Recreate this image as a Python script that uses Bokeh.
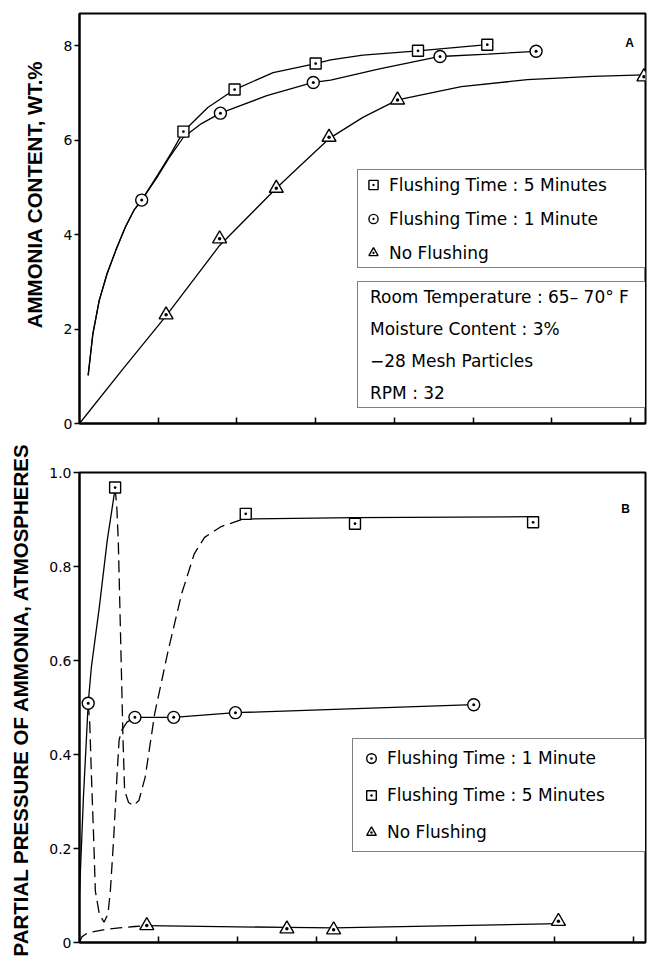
from math import pi
from bokeh.plotting import figure
from bokeh.models import Range1d, FixedTicker, Legend, LegendItem, Label
from bokeh.layouts import column, row
from bokeh.embed import file_html
from bokeh.resources import INLINE

# ---------------- Panel A data (ammonia content, wt.%) ----------------
x_ticks = [1, 2, 3, 4, 5, 6, 7]
a_y_ticks = [0, 2, 4, 6, 8]

# measured points
a_sq_x = [1.32, 1.97, 3.00, 4.30, 5.18]
a_sq_y = [6.18, 7.07, 7.62, 7.89, 8.02]
a_ci_x = [0.79, 1.79, 2.97, 4.58, 5.80]
a_ci_y = [4.73, 6.57, 7.22, 7.77, 7.88]
a_tr_x = [1.10, 1.78, 2.50, 3.17, 4.04, 7.17]
a_tr_y = [2.30, 3.91, 4.98, 6.06, 6.85, 7.34]

# hand-drawn fitted curves
a_sq_curve_x = [0.11, 0.17, 0.25, 0.35, 0.46, 0.58, 0.69, 0.79, 1.00, 1.17, 1.32, 1.63, 1.97, 2.46, 3.00, 3.19, 3.60, 4.30, 5.18]
a_sq_curve_y = [1.02, 1.90, 2.60, 3.17, 3.66, 4.15, 4.51, 4.73, 5.28, 5.74, 6.18, 6.69, 7.07, 7.43, 7.62, 7.70, 7.80, 7.89, 8.02]
a_ci_curve_x = [0.11, 0.17, 0.25, 0.35, 0.46, 0.58, 0.69, 0.79, 1.00, 1.13, 1.32, 1.55, 1.79, 2.38, 2.97, 3.19, 3.81, 4.58, 5.19, 5.80]
a_ci_curve_y = [1.02, 1.90, 2.60, 3.17, 3.66, 4.15, 4.51, 4.73, 5.25, 5.60, 6.06, 6.35, 6.57, 6.94, 7.22, 7.27, 7.51, 7.77, 7.82, 7.88]
a_tr_curve_x = [0.00, 0.55, 1.10, 1.78, 2.50, 2.83, 3.17, 3.60, 4.04, 4.85, 5.69, 6.52, 7.17]
a_tr_curve_y = [0.00, 1.15, 2.28, 3.77, 4.98, 5.50, 6.03, 6.48, 6.85, 7.13, 7.28, 7.35, 7.38]

# ---------------- Panel B data (partial pressure, atm) ----------------
b_y_ticks = [0, 0.2, 0.4, 0.6, 0.8, 1.0]
b_y_labels = {0: "0", 0.2: "0.2", 0.4: "0.4", 0.6: "0.6", 0.8: "0.8", 1.0: "1.0"}

b_ci_x = [0.11, 0.70, 1.19, 1.97, 4.98]
b_ci_y = [0.509, 0.479, 0.479, 0.489, 0.506]
b_sq_x = [0.45, 2.10, 3.48, 5.73]
b_sq_y = [0.968, 0.912, 0.891, 0.894]
b_tr_x = [0.85, 2.62, 3.21, 6.05]
b_tr_y = [0.036, 0.029, 0.027, 0.045]

b_rise_x = [0.00, 0.05, 0.11, 0.15, 0.25, 0.35, 0.45]
b_rise_y = [0.104, 0.31, 0.509, 0.586, 0.713, 0.855, 0.966]
b_sq_dash_x = [0.45, 0.47, 0.49, 0.52, 0.55, 0.57, 0.62, 0.68, 0.75, 0.83, 0.95, 1.12, 1.29, 1.45, 1.58, 1.79, 2.05]
b_sq_dash_y = [0.966, 0.93, 0.855, 0.643, 0.43, 0.323, 0.298, 0.291, 0.302, 0.352, 0.487, 0.621, 0.742, 0.827, 0.862, 0.885, 0.900]
b_sq_flat_x = [2.05, 3.48, 5.73]
b_sq_flat_y = [0.901, 0.904, 0.906]
b_ci_dash_x = [0.11, 0.13, 0.15, 0.18, 0.20, 0.25, 0.31, 0.36, 0.39, 0.43, 0.475, 0.50, 0.53]
b_ci_dash_y = [0.509, 0.465, 0.359, 0.217, 0.11, 0.061, 0.043, 0.061, 0.11, 0.217, 0.359, 0.43, 0.451]
b_ci_flat_x = [0.53, 0.60, 0.70, 1.19, 1.97, 4.98]
b_ci_flat_y = [0.451, 0.469, 0.479, 0.479, 0.489, 0.506]
b_tr_dash_x = [0.00, 0.03, 0.08, 0.15, 0.30, 0.50, 0.70, 0.85]
b_tr_dash_y = [0.000, 0.012, 0.018, 0.022, 0.027, 0.031, 0.034, 0.036]
b_tr_flat_x = [0.85, 2.62, 3.21, 6.05]
b_tr_flat_y = [0.036, 0.032, 0.031, 0.040]

legend_a = ["Flushing Time : 5 Minutes", "Flushing Time : 1 Minute", "No Flushing"]
info_a = ["Room Temperature : 65\u2013 70\u00b0 F", "Moisture Content : 3%", "\u221228 Mesh Particles", "RPM : 32"]
legend_b = ["Flushing Time : 1 Minute", "Flushing Time : 5 Minutes", "No Flushing"]
ylabel_a = "AMMONIA CONTENT, WT.%"
ylabel_b = "PARTIAL PRESSURE OF AMMONIA, ATMOSPHERES"

TXT = "DejaVu Sans"
BOLD = "Liberation Sans"
LW = 1.3
MK = dict(fill_color="white", line_color="black", line_width=1.4)
LAB_W = 46  # width of the strip holding the rotated axis titles


def style(p, tick_out, standoff):
    p.grid.visible = False
    p.outline_line_color = "black"
    p.outline_line_width = 2
    p.background_fill_color = "white"
    p.border_fill_color = "white"
    p.xaxis.ticker = FixedTicker(ticks=x_ticks)
    p.xaxis.major_label_text_font_size = "1px"
    p.xaxis.major_label_text_alpha = 0
    p.xaxis.major_tick_in = 6
    p.xaxis.major_tick_out = 0
    p.xaxis.minor_tick_line_color = None
    p.xaxis.axis_line_width = 2
    p.xaxis.major_tick_line_width = 1.5
    p.yaxis.major_tick_in = 0
    p.yaxis.major_tick_out = tick_out
    p.yaxis.minor_tick_line_color = None
    p.yaxis.axis_line_width = 2
    p.yaxis.major_tick_line_width = 1.5
    p.yaxis.major_label_standoff = standoff
    p.yaxis.major_label_text_font = TXT
    p.yaxis.major_label_text_font_size = "14px"
    p.yaxis.major_label_text_color = "black"


def legend_style(**kw):
    base = dict(margin=0, label_text_font=TXT, label_text_font_size="17px",
                label_text_color="black", border_line_color="black",
                border_line_width=1.5, background_fill_color="white",
                background_fill_alpha=1.0)
    base.update(kw)
    return base


# ---------------- strip with the rotated axis titles ----------------
pL = figure(width=LAB_W, height=963, x_range=Range1d(0, LAB_W), y_range=Range1d(0, 963),
            output_backend="svg", toolbar_location=None, min_border=0,
            x_axis_location=None, y_axis_location=None)
pL.grid.visible = False
pL.outline_line_color = None
pL.add_layout(Label(x=33.5, y=963 - 194, text=ylabel_a, angle=pi / 2,
                    text_align="center", text_baseline="middle", text_color="black",
                    text_font=BOLD, text_font_style="bold", text_font_size="20.5px"))
pL.add_layout(Label(x=20, y=963 - 699, text=ylabel_b, angle=pi / 2,
                    text_align="center", text_baseline="middle", text_color="black",
                    text_font=BOLD, text_font_style="bold", text_font_size="20.5px"))

# ---------------- Panel A ----------------
pA = figure(width=650 - LAB_W, height=440, x_range=Range1d(0, 7.19), y_range=Range1d(0, 8.68),
            output_backend="svg", toolbar_location=None,
            min_border_left=70 - LAB_W, min_border_right=5, min_border_top=13, min_border_bottom=17)
style(pA, 5, 2)
pA.yaxis.ticker = FixedTicker(ticks=a_y_ticks)

pA.line(a_sq_curve_x, a_sq_curve_y, line_color="black", line_width=LW)
pA.line(a_ci_curve_x, a_ci_curve_y, line_color="black", line_width=LW)
pA.line(a_tr_curve_x, a_tr_curve_y, line_color="black", line_width=LW)
rA_sq = pA.scatter(a_sq_x, a_sq_y, marker="square_dot", size=11, **MK)
rA_ci = pA.scatter(a_ci_x, a_ci_y, marker="circle_dot", size=12, **MK)
rA_tr = pA.scatter(a_tr_x, a_tr_y, marker="triangle_dot", size=14, **MK)

legA = Legend(items=[LegendItem(label=legend_a[0], renderers=[rA_sq]),
                     LegendItem(label=legend_a[1], renderers=[rA_ci]),
                     LegendItem(label=legend_a[2], renderers=[rA_tr])],
              **legend_style(location=(278, 155), padding=3, spacing=11,
                             glyph_width=24, glyph_height=23, label_height=23, label_width=262,
                             label_standoff=4))
pA.add_layout(legA)

infoA = Legend(items=[LegendItem(label=t, renderers=[]) for t in info_a],
               **legend_style(location=(278, 15), padding=3, spacing=9,
                              glyph_width=0, glyph_height=23, label_height=23, label_width=275,
                              label_standoff=9))
pA.add_layout(infoA)

pA.add_layout(Label(x=550, y=381, x_units="screen", y_units="screen", text="A",
                    text_align="center", text_baseline="middle", text_color="black",
                    text_font=BOLD, text_font_style="bold", text_font_size="12px"))

# ---------------- Panel B ----------------
pB = figure(width=650 - LAB_W, height=523, x_range=Range1d(0, 7.15), y_range=Range1d(0, 1.0),
            output_backend="svg", toolbar_location=None,
            min_border_left=77 - LAB_W, min_border_right=1, min_border_top=32, min_border_bottom=21)
style(pB, 6, 2)
pB.yaxis.ticker = FixedTicker(ticks=b_y_ticks)
pB.yaxis.major_label_overrides = b_y_labels

pB.line(b_rise_x, b_rise_y, line_color="black", line_width=LW)
pB.line(b_sq_dash_x, b_sq_dash_y, line_color="black", line_width=LW, line_dash="12 6")
pB.line(b_sq_flat_x, b_sq_flat_y, line_color="black", line_width=LW)
pB.line(b_ci_dash_x, b_ci_dash_y, line_color="black", line_width=LW, line_dash="12 6")
pB.line(b_ci_flat_x, b_ci_flat_y, line_color="black", line_width=LW)
pB.line(b_tr_dash_x, b_tr_dash_y, line_color="black", line_width=LW, line_dash="12 6")
pB.line(b_tr_flat_x, b_tr_flat_y, line_color="black", line_width=LW)
rB_ci = pB.scatter(b_ci_x, b_ci_y, marker="circle_dot", size=12, **MK)
rB_sq = pB.scatter(b_sq_x, b_sq_y, marker="square_dot", size=11, **MK)
rB_tr = pB.scatter(b_tr_x, b_tr_y, marker="triangle_dot", size=14, **MK)

legB = Legend(items=[LegendItem(label=legend_b[0], renderers=[rB_ci]),
                     LegendItem(label=legend_b[1], renderers=[rB_sq]),
                     LegendItem(label=legend_b[2], renderers=[rB_tr])],
              **legend_style(location=(273, 90), padding=6, spacing=11,
                             glyph_width=24, glyph_height=24, label_height=26, label_width=262,
                             label_standoff=4))
pB.add_layout(legB)

pB.add_layout(Label(x=546, y=434, x_units="screen", y_units="screen", text="B",
                    text_align="center", text_baseline="middle", text_color="black",
                    text_font=BOLD, text_font_style="bold", text_font_size="12px"))

layout = row(pL, column(pA, pB, spacing=0), spacing=0)
open("out.html", "w").write(file_html(layout, INLINE))
